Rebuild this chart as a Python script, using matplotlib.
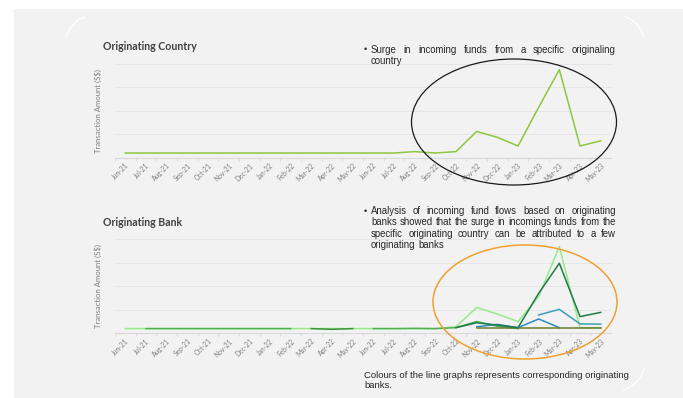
import numpy as np
import matplotlib
matplotlib.use("Agg")
import matplotlib.pyplot as plt
from matplotlib.patches import Ellipse, Rectangle
from matplotlib.lines import Line2D

nan = np.nan
months = ["Jun-21", "Jul-21", "Aug-21", "Sep-21", "Oct-21", "Nov-21", "Dec-21",
          "Jan-22", "Feb-22", "Mar-22", "Apr-22", "May-22", "Jun-22", "Jul-22",
          "Aug-22", "Sep-22", "Oct-22", "Nov-22", "Dec-22", "Jan-23", "Feb-23",
          "Mar-23", "Apr-23", "May-23"]

country = [0.2, 0.2, 0.2, 0.2, 0.2, 0.2, 0.2, 0.2, 0.2, 0.2, 0.2, 0.2, 0.2, 0.2,
           0.26, 0.2, 0.26, 1.12, 0.87, 0.5, 2.15, 3.76, 0.5, 0.72]

bank_lime = [0.2, 0.2, 0.2, 0.2, 0.2, 0.2, 0.2, 0.2, 0.2, 0.2, 0.2, 0.2, 0.2, 0.2,
             0.2, 0.2, 0.28, 1.1, 0.82, 0.5, 1.56, 3.69, 0.24, 0.24]
bank_green = [nan, 0.2, 0.2, 0.2, 0.2, 0.2, 0.2, 0.2, 0.2, nan, nan, nan, 0.2, 0.2,
              0.21, 0.2, 0.24, 0.5, 0.3, 0.2, nan, nan, nan, nan]
bank_forest = [nan, nan, nan, nan, nan, nan, nan, nan, nan, 0.2, 0.17, 0.2, nan, nan,
               nan, nan, nan, nan, nan, nan, nan, nan, nan, nan]
bank_dark = [nan, nan, nan, nan, nan, nan, nan, nan, nan, nan, nan, nan, nan, nan,
             nan, nan, 0.24, 0.45, 0.35, 0.24, 1.7, 2.98, 0.71, 0.89]
bank_blue = [nan, nan, nan, nan, nan, nan, nan, nan, nan, nan, nan, nan, nan, nan,
             nan, nan, nan, 0.28, 0.38, 0.24, 0.61, 0.24, nan, nan]
bank_teal = [nan, nan, nan, nan, nan, nan, nan, nan, nan, nan, nan, nan, nan, nan,
             nan, nan, nan, nan, nan, nan, 0.78, 1.02, 0.4, 0.39]
bank_olive = [nan, nan, nan, nan, nan, nan, nan, nan, nan, nan, nan, nan, nan, nan,
              nan, nan, nan, 0.22, 0.22, 0.22, 0.22, 0.22, 0.22, 0.22]

W, H = 683, 398
fig = plt.figure(figsize=(W / 100, H / 100), dpi=100)
fig.patch.set_facecolor("white")
plt.rcParams['font.family'] = ['Liberation Sans', 'DejaVu Sans']


def fx(px):
    return px / W


def fy(py):
    return 1 - py / H


# background panel
fig.patches.append(Rectangle((fx(14), 0), 1 - fx(14), fy(9), transform=fig.transFigure,
                             facecolor="#f2f2f2", edgecolor="none", zorder=-2))
# faint decorative arcs (pixel centre, radius 30, angles measured in screen orientation)
for (cx, cy, t1, t2) in [(95, 45, 195, 250), (615, 45, 290, 345), (615, 361, 15, 75)]:
    th = np.radians(np.linspace(t1, t2, 30))
    px = cx + 30 * np.cos(th)
    py = cy + 30 * np.sin(th)
    fig.lines.append(Line2D(fx(px), fy(py), transform=fig.transFigure, color="white",
                            lw=0.8, zorder=-1))

grey = "#7f7f7f"


def style_axes(ax):
    ax.set_facecolor("none")
    ax.set_xlim(-0.5, 23.5)
    ax.set_ylim(0, 4)
    ax.set_yticks([0, 1, 2, 3, 4])
    ax.set_yticklabels([])
    ax.tick_params(axis="y", length=0)
    ax.grid(axis="y", color="#e6e6e6", lw=0.7)
    ax.set_axisbelow(True)
    for s in ["top", "right", "left"]:
        ax.spines[s].set_visible(False)
    ax.spines["bottom"].set_color("#d9d9d9")
    ax.spines["bottom"].set_linewidth(0.8)
    ax.set_xticks(np.arange(len(months)))
    ax.set_xticklabels(months, rotation=45, ha="right", va="top",
                       rotation_mode="anchor", fontsize=4.8, color=grey,
                       family=["Lato", "DejaVu Sans"])
    ax.tick_params(axis="x", length=0, pad=3)
    ax.set_xticks(np.arange(len(months)) - 0.5, minor=True)
    ax.tick_params(axis="x", which="minor", length=2.5, color="#d9d9d9", width=0.6)
    ax.set_ylabel("Transaction Amount (S$)", fontsize=5.6, color=grey,
                  family=["Lato", "DejaVu Sans"], labelpad=6)


x = np.arange(len(months))

ax1 = fig.add_axes([fx(115), fy(157.7), fx(496), (157.7 - 64) / H])
style_axes(ax1)
ax1.plot(x, country, color="#8dc63f", lw=1.1)

ax2 = fig.add_axes([fx(115), fy(333.3), fx(496), (333.3 - 239.3) / H])
style_axes(ax2)
ax2.plot(x, bank_lime, color="#97ea8a", lw=1.1)
ax2.plot(x, bank_green, color="#4fb04f", lw=1.1)
ax2.plot(x, bank_forest, color="#3a933a", lw=1.1)
ax2.plot(x, bank_blue, color="#2b8cc4", lw=1.1)
ax2.plot(x, bank_teal, color="#3b9fb3", lw=1.1)
ax2.plot(x, bank_olive, color="#6b7a2e", lw=1.1)
ax2.plot(x, bank_dark, color="#1f7a4c", lw=1.1)

# titles
fig.text(fx(103), fy(46), "Originating Country", fontsize=7.6, fontweight="bold",
         color="#404040", family=["Lato", "DejaVu Sans"], va="center")
fig.text(fx(103), fy(222), "Originating Bank", fontsize=7.6, fontweight="bold",
         color="#404040", family=["Lato", "DejaVu Sans"], va="center")

# ellipses
fig.patches.append(Ellipse((fx(514), fy(122)), fx(205), 126 / H, transform=fig.transFigure,
                           facecolor="none", edgecolor="#1a1a1a", lw=0.9, zorder=5))
fig.patches.append(Ellipse((fx(525), fy(302)), fx(184), 114 / H, transform=fig.transFigure,
                           facecolor="none", edgecolor="#f0a030", lw=1.1, zorder=5))

renderer = fig.canvas.get_renderer()
txtcol = "#262626"


def justified(lines, x0, x1, y0, dy, size, last_justify=False):
    for i, line in enumerate(lines):
        words = line.split()
        y = y0 + i * dy
        widths = []
        for w_ in words:
            t = fig.text(0, 0, w_, fontsize=size)
            widths.append(t.get_window_extent(renderer).width)
            t.remove()
        if (i < len(lines) - 1 or last_justify) and len(words) > 1:
            gap = (x1 - x0 - sum(widths)) / (len(words) - 1)
        else:
            t = fig.text(0, 0, "a b", fontsize=size)
            t2 = fig.text(0, 0, "ab", fontsize=size)
            gap = t.get_window_extent(renderer).width - t2.get_window_extent(renderer).width
            t.remove()
            t2.remove()
        cx = x0
        for w_, wd in zip(words, widths):
            fig.text(fx(cx), fy(y), w_, fontsize=size, color=txtcol, va="center", ha="left")
            cx += wd + gap


fig.text(fx(364), fy(50), "•", fontsize=6.5, color=txtcol, va="center")
justified(["Surge in incoming funds from a specific originaling", "country"],
          371, 616, 50, 11.5, 6.9)

fig.text(fx(364), fy(211), "•", fontsize=6.5, color=txtcol, va="center")
justified(["Analysis of incoming fund flows based on originating",
           "banks showed that the surge in incomings funds from the",
           "specific originating country can be attributed to a few",
           "originating banks"],
          371, 616, 211, 11.3, 6.9)

fig.text(fx(364), fy(375), "Colours of the line graphs represents corresponding originating",
         fontsize=6.8, color=txtcol, va="center")
fig.text(fx(364), fy(386), "banks.", fontsize=6.8, color=txtcol, va="center")

fig.savefig("out.png", dpi=100, facecolor=fig.get_facecolor())
